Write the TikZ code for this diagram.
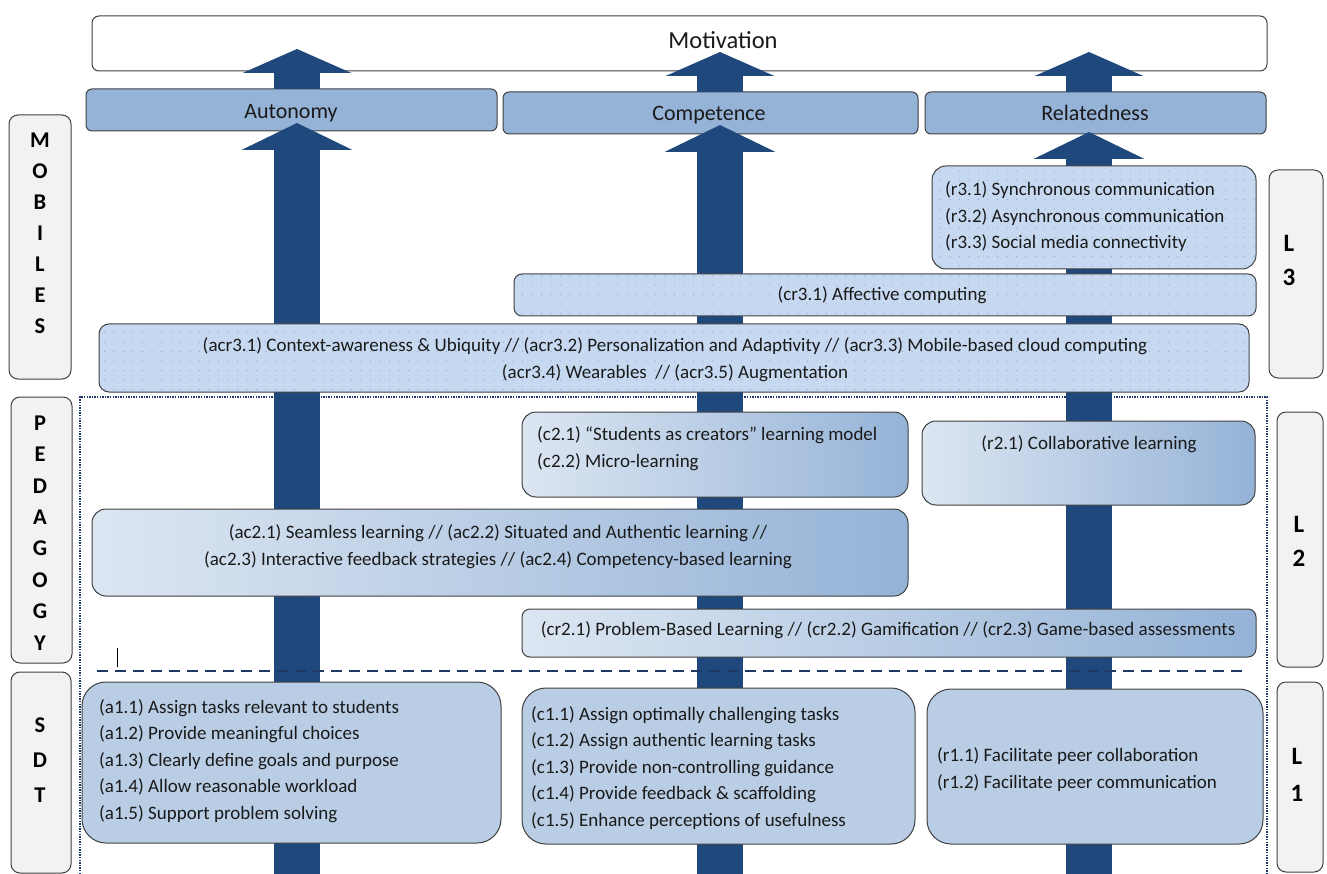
\documentclass[tikz,border=0pt]{standalone}
\usepackage{fontspec}
\setmainfont{Carlito}
\usetikzlibrary{arrows.meta,patterns.meta}
\definecolor{bord}{HTML}{404040}
\definecolor{hdrc}{HTML}{95B3D7}
\definecolor{sidec}{HTML}{F2F2F2}
\definecolor{dotfill}{HTML}{C6D9F1}
\definecolor{dotc}{HTML}{8EAADB}
\definecolor{gL}{HTML}{DCE6F2}
\definecolor{gM}{HTML}{C8D8EC}
\definecolor{gR}{HTML}{95B3D7}
\definecolor{l1c}{HTML}{B9CDE5}
\definecolor{navy}{HTML}{1F497D}
\definecolor{framec}{HTML}{1F3864}
\definecolor{txtc}{HTML}{1A1A1A}
\tikzdeclarepattern{name=sdots,type=uncolored,
  bounding box={(-0.7pt,-0.7pt) and (0.7pt,0.7pt)},
  tile size={(9.5pt,9.5pt)},
  code={\fill (0pt,0pt) circle (0.65pt);}}
\begin{document}
\begin{tikzpicture}[x=1pt,y=-1pt,
  box/.style={draw=bord,line width=1pt,inner sep=0pt,outer sep=0pt},
  hdr/.style={box,fill=hdrc,rounded corners=6pt},
  sidebox/.style={box,fill=sidec,rounded corners=9pt},
  dotbox/.style={box,fill=dotfill,postaction={pattern=sdots,pattern color=dotc}},
  gradbox/.style={box,left color=gL,middle color=gM,right color=gR,rounded corners=14pt},
  lonebox/.style={box,fill=l1c,rounded corners=24pt},
  txt/.style={inner sep=0pt,text=txtc,font=\fontsize{19}{26.5}\selectfont},
  hdrtxt/.style={inner sep=0pt,text=txtc,font=\fontsize{22}{26}\selectfont},
  sidetxt/.style={inner sep=0pt,text=black,align=center,font=\fontsize{22.5}{31}\selectfont\bfseries},
  bigarrow/.style={draw=navy,line width=46pt,-{Triangle[width=110pt,length=27pt]}},
  bigarrowU/.style={draw=navy,line width=46pt,-{Triangle[width=108pt,length=24pt]}},
  dotframe/.style={draw=framec,line width=1.4pt,dash pattern=on 1.4pt off 1.2pt},
  levelline/.style={draw=framec,line width=2.5pt,dash pattern=on 11pt off 7pt}
]
\useasboundingbox (0,0) rectangle (1327,874);

% dotted frame around levels 1 and 2
\coordinate (fBL) at (80,874);
\coordinate (fTL) at (80,397);
\coordinate (fTR) at (1267,397);
\coordinate (fBR) at (1267,874);
\draw[dotframe] (fBL) -- (fTL) -- (fTR) -- (fBR);

% motivation and needs
\node[box,fill=white,rounded corners=7pt,minimum width=1175pt,minimum height=55pt] (mot) at (679.5,43.5) {};
\node[hdrtxt,font=\fontsize{24.5}{28}\selectfont,anchor=base] (motT) at (723,49) {Motivation};
\node[hdr,minimum width=411pt,minimum height=42pt] (aut) at (291.5,110) {};
\node[hdr,minimum width=415pt,minimum height=42pt] (comp) at (710.5,113) {};
\node[hdr,minimum width=341pt,minimum height=42pt] (rel) at (1095.5,113) {};
\node[hdrtxt,anchor=base] (autT) at (291,119) {Autonomy};
\node[hdrtxt,anchor=base] (compT) at (709,121) {Competence};
\node[hdrtxt,anchor=base] (relT) at (1095,121) {Relatedness};

% big arrows
\coordinate (aBot) at (297,874);
\coordinate (aTip) at (297,123);
\coordinate (aTop) at (297,49);
\coordinate (cBot) at (720,874);
\coordinate (cTip) at (720,125);
\coordinate (cTop) at (720,52);
\coordinate (rBot) at (1089,874);
\coordinate (rTip) at (1089,132);
\coordinate (rTop) at (1089,52);
\draw[bigarrow] (aBot) -- (aTip);
\draw[bigarrow] (cBot) -- (cTip);
\draw[bigarrow] (rBot) -- (rTip);
\draw[bigarrowU] (aut.north -| aTop) -- (aTop);
\draw[bigarrowU] (comp.north -| cTop) -- (cTop);
\draw[bigarrowU] (rel.north -| rTop) -- (rTop);

% level separator
\coordinate (dL) at (97,671);
\coordinate (dR) at (1246,671);
\draw[levelline] (dL) -- (dR);
\coordinate (curT) at (117,648);
\coordinate (curB) at (117,667);
\draw[black,line width=0.8pt] (curT) -- (curB);

% level 3 (mobiles)
\node[dotbox,rounded corners=14pt,minimum width=324pt,minimum height=103pt] (r3) at (1094,217.5) {};
\node[txt,align=left,anchor=base west] (r3T) at (945,249) {(r3.1) Synchronous communication\\(r3.2) Asynchronous communication\\(r3.3) Social media connectivity};
\node[dotbox,rounded corners=8pt,minimum width=742pt,minimum height=42pt] (cr3) at (885,295) {};
\node[txt,anchor=base] (cr3T) at (882,301) {(cr3.1) Affective computing};
\node[dotbox,rounded corners=10pt,minimum width=1150pt,minimum height=68pt] (acr3) at (674,358) {};
\node[txt,align=center,anchor=base] (acr3T) at (675,378) {(acr3.1) Context-awareness \& Ubiquity // (acr3.2) Personalization and Adaptivity // (acr3.3) Mobile-based cloud computing\\(acr3.4) Wearables\ \ // (acr3.5) Augmentation};

% level 2 (pedagogy)
\node[gradbox,minimum width=386pt,minimum height=85pt] (c2) at (715,454.5) {};
\node[txt,align=left,anchor=base west] (c2T) at (537,467) {(c2.1) “Students as creators” learning model\\(c2.2) Micro-learning};
\node[gradbox,minimum width=333pt,minimum height=84pt] (r2) at (1088.5,463) {};
\node[txt,anchor=base] (r2T) at (1089,449) {(r2.1) Collaborative learning};
\node[gradbox,minimum width=816pt,minimum height=87pt] (ac2) at (500,552.5) {};
\node[txt,align=center,anchor=base] (ac2T) at (498,565) {(ac2.1) Seamless learning // (ac2.2) Situated and Authentic learning //\\(ac2.3) Interactive feedback strategies // (ac2.4) Competency-based learning};
\node[gradbox,rounded corners=8pt,minimum width=734pt,minimum height=48pt] (cr2) at (889,633) {};
\node[txt,anchor=base] (cr2T) at (888,635) {(cr2.1) Problem-Based Learning // (cr2.2) Gamification // (cr2.3) Game-based assessments};

% level 1 (SDT)
\node[lonebox,minimum width=419pt,minimum height=161pt] (a1) at (291.5,762.5) {};
\node[txt,align=left,anchor=base west] (a1T) at (99,819) {(a1.1) Assign tasks relevant to students\\(a1.2) Provide meaningful choices\\(a1.3) Clearly define goals and purpose\\(a1.4) Allow reasonable workload\\(a1.5) Support problem solving};
\node[lonebox,minimum width=393pt,minimum height=156pt] (c1) at (718.5,766) {};
\node[txt,align=left,anchor=base west] (c1T) at (531,826) {(c1.1) Assign optimally challenging tasks\\(c1.2) Assign authentic learning tasks\\(c1.3) Provide non-controlling guidance\\(c1.4) Provide feedback \& scaffolding\\(c1.5) Enhance perceptions of usefulness};
\node[lonebox,minimum width=336pt,minimum height=155pt] (r1) at (1095,766.5) {};
\node[txt,align=left,anchor=base west] (r1T) at (937,788) {(r1.1) Facilitate peer collaboration\\(r1.2) Facilitate peer communication};

% side labels
\node[sidebox,minimum width=62pt,minimum height=264pt] (mob) at (40,247) {};
\node[sidetxt,anchor=base] (mobT) at (40,334) {M\\O\\B\\I\\L\\E\\S};
\node[sidebox,minimum width=61pt,minimum height=266pt] (ped) at (41.5,530) {};
\node[sidetxt,font=\fontsize{22.5}{31.4}\selectfont\bfseries,anchor=base] (pedT) at (40,650) {P\\E\\D\\A\\G\\O\\G\\Y};
\node[sidebox,minimum width=60pt,minimum height=201pt] (sdt) at (41,772.5) {};
\node[sidetxt,font=\fontsize{22.5}{35}\selectfont\bfseries,anchor=base] (sdtT) at (40,802) {S\\D\\T};
\node[sidebox,minimum width=54pt,minimum height=208pt] (l3) at (1296,274) {};
\node[sidetxt,font=\fontsize{25}{34}\selectfont\bfseries,anchor=base] (l3T) at (1289,286) {L\\3};
\node[sidebox,minimum width=46pt,minimum height=255pt] (l2) at (1300,539.5) {};
\node[sidetxt,font=\fontsize{25}{34}\selectfont\bfseries,anchor=base] (l2T) at (1299,566) {L\\2};
\node[sidebox,minimum width=46pt,minimum height=190pt] (l1) at (1300,777) {};
\node[sidetxt,font=\fontsize{25}{37}\selectfont\bfseries,anchor=base] (l1T) at (1297,801) {L\\1};
\end{tikzpicture}
\end{document}
